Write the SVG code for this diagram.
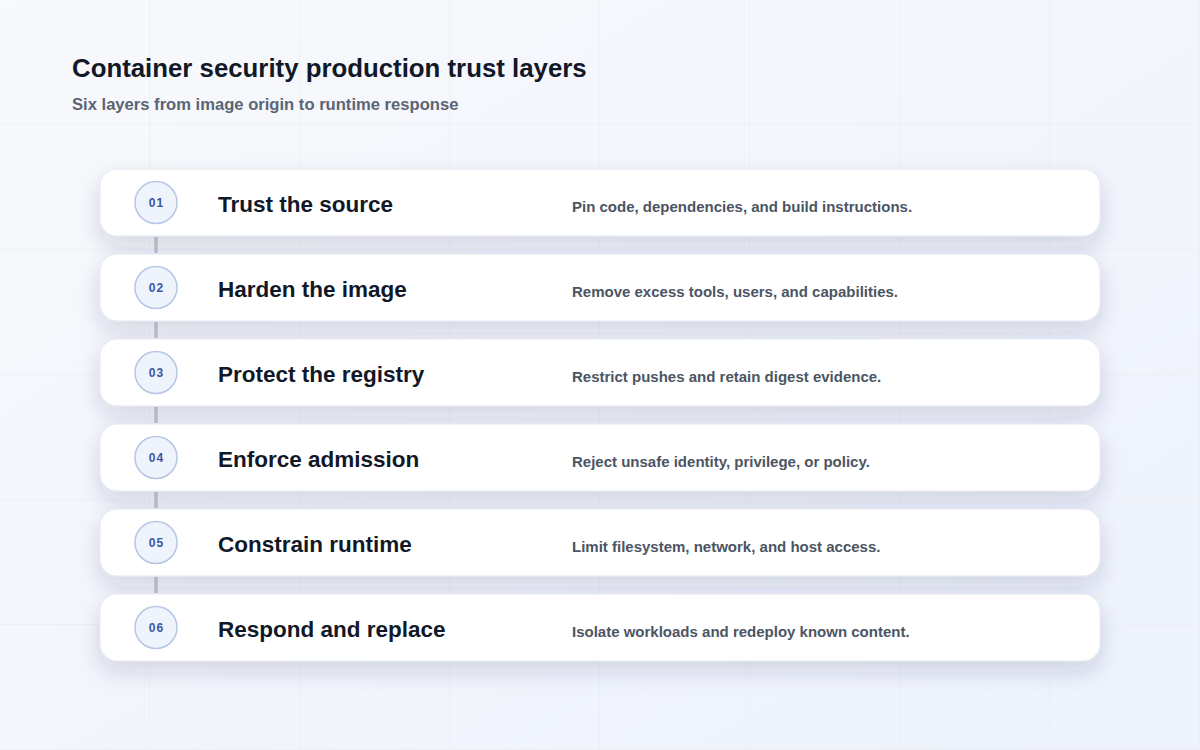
<svg xmlns="http://www.w3.org/2000/svg" width="1200" height="750" viewBox="0 0 1200 750">
  <defs>
    <linearGradient id="bg" x1="0" y1="0" x2="1" y2="1">
      <stop offset="0" stop-color="#f8f9fc"/>
      <stop offset="1" stop-color="#edf2fc"/>
    </linearGradient>
    <pattern id="grid" width="150" height="125" patternUnits="userSpaceOnUse">
      <path d="M150 0V125M0 125H150" fill="none" stroke="#e8ebf1" stroke-width="1"/>
    </pattern>
    <filter id="sh" x="-10%" y="-40%" width="120%" height="200%">
      <feDropShadow dx="0" dy="10" stdDeviation="11" flood-color="#2a3560" flood-opacity="0.16"/>
    </filter>
    <style>
      .card{fill:#ffffff;stroke:#e3e7ef;stroke-width:1}
      .badge{fill:#eef3fc;stroke:#b7c6e4;stroke-width:1.5}
      .num{font-family:"Liberation Sans",Arial,sans-serif;font-size:12px;font-weight:700;fill:#3b56a2;letter-spacing:1px}
      .ttl{font-family:"Liberation Sans",Arial,sans-serif;font-size:22.5px;font-weight:700;fill:#111827}
      .dsc{font-family:"Liberation Sans",Arial,sans-serif;font-size:15px;font-weight:700;fill:#4b5563}
      .conn{stroke:#c4c8d1;stroke-width:3.5}
    </style>
  </defs>
  <rect width="1200" height="750" fill="url(#bg)"/>
  <rect width="1200" height="750" fill="url(#grid)"/>

  <text x="72" y="77" font-family="Liberation Sans, Arial, sans-serif" font-size="25.8" font-weight="700" fill="#111827">Container security production trust layers</text>
  <text x="72" y="110" font-family="Liberation Sans, Arial, sans-serif" font-size="16.6" font-weight="700" fill="#5b6474">Six layers from image origin to runtime response</text>

  <g id="connectors">
    <line class="conn" x1="156" y1="237" x2="156" y2="253"/>
    <line class="conn" x1="156" y1="322" x2="156" y2="338"/>
    <line class="conn" x1="156" y1="407" x2="156" y2="423"/>
    <line class="conn" x1="156" y1="492" x2="156" y2="508"/>
    <line class="conn" x1="156" y1="577" x2="156" y2="593"/>
  </g>

  <g id="layer1">
    <rect class="card" x="100" y="169" width="1000" height="67" rx="17" filter="url(#sh)"/>
    <circle class="badge" cx="156" cy="202.5" r="21"/>
    <text class="num" x="156.5" y="207" text-anchor="middle">01</text>
    <text class="ttl" x="218" y="212">Trust the source</text>
    <text class="dsc" x="572" y="212">Pin code, dependencies, and build instructions.</text>
  </g>
  <g id="layer2">
    <rect class="card" x="100" y="254" width="1000" height="67" rx="17" filter="url(#sh)"/>
    <circle class="badge" cx="156" cy="287.5" r="21"/>
    <text class="num" x="156.5" y="292" text-anchor="middle">02</text>
    <text class="ttl" x="218" y="297">Harden the image</text>
    <text class="dsc" x="572" y="297">Remove excess tools, users, and capabilities.</text>
  </g>
  <g id="layer3">
    <rect class="card" x="100" y="339" width="1000" height="67" rx="17" filter="url(#sh)"/>
    <circle class="badge" cx="156" cy="372.5" r="21"/>
    <text class="num" x="156.5" y="377" text-anchor="middle">03</text>
    <text class="ttl" x="218" y="382">Protect the registry</text>
    <text class="dsc" x="572" y="382">Restrict pushes and retain digest evidence.</text>
  </g>
  <g id="layer4">
    <rect class="card" x="100" y="424" width="1000" height="67" rx="17" filter="url(#sh)"/>
    <circle class="badge" cx="156" cy="457.5" r="21"/>
    <text class="num" x="156.5" y="462" text-anchor="middle">04</text>
    <text class="ttl" x="218" y="467">Enforce admission</text>
    <text class="dsc" x="572" y="467">Reject unsafe identity, privilege, or policy.</text>
  </g>
  <g id="layer5">
    <rect class="card" x="100" y="509" width="1000" height="67" rx="17" filter="url(#sh)"/>
    <circle class="badge" cx="156" cy="542.5" r="21"/>
    <text class="num" x="156.5" y="547" text-anchor="middle">05</text>
    <text class="ttl" x="218" y="552">Constrain runtime</text>
    <text class="dsc" x="572" y="552">Limit filesystem, network, and host access.</text>
  </g>
  <g id="layer6">
    <rect class="card" x="100" y="594" width="1000" height="67" rx="17" filter="url(#sh)"/>
    <circle class="badge" cx="156" cy="627.5" r="21"/>
    <text class="num" x="156.5" y="632" text-anchor="middle">06</text>
    <text class="ttl" x="218" y="637">Respond and replace</text>
    <text class="dsc" x="572" y="637">Isolate workloads and redeploy known content.</text>
  </g>
</svg>
